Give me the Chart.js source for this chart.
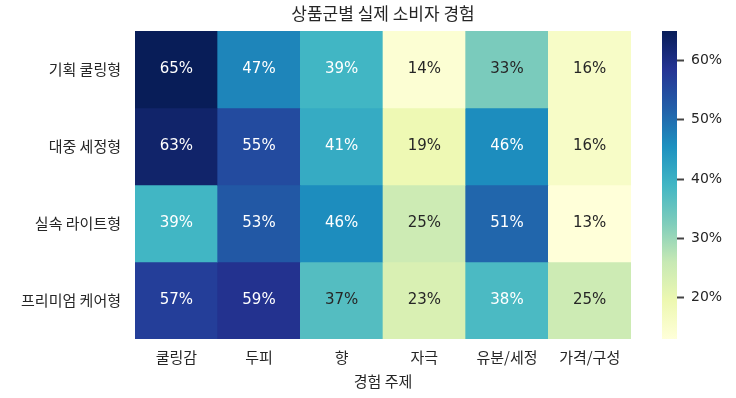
<!DOCTYPE html>
<html>
<head>
<meta charset="utf-8">
<script src="https://cdn.jsdelivr.net/npm/chart.js@4.4.1/dist/chart.umd.min.js"></script>
<style>
  html, body { margin: 0; padding: 0; background: #ffffff; }
  #wrap { position: relative; width: 736px; height: 398px; }
  #heat { position: absolute; left: 0; top: 0; }
  #cbar { position: absolute; left: 600px; top: 0; }
</style>
</head>
<body>
<div id="wrap">
  <canvas id="heat" width="736" height="398"></canvas>
  <canvas id="cbar" width="136" height="398"></canvas>
</div>
<script>
// data
var groups = ["기획 쿨링형", "대중 세정형", "실속 라이트형", "프리미엄 케어형"];
var topics = ["쿨링감", "두피", "향", "자극", "유분/세정", "가격/구성"];
var planCooling = [65, 47, 39, 14, 33, 16];
var massCleansing = [63, 55, 41, 19, 46, 16];
var budgetLight = [39, 53, 46, 25, 51, 13];
var premiumCare = [57, 59, 37, 23, 38, 25];
var cbarTicks = [20, 30, 40, 50, 60];

var values = [planCooling, massCleansing, budgetLight, premiumCare];
var all = [].concat.apply([], values);
var vmin = Math.min.apply(null, all);
var vmax = Math.max.apply(null, all);

var FONT = "'Noto Sans CJK KR', 'Noto Sans', sans-serif";
var NUMFONT = "'DejaVu Sans', 'Noto Sans CJK KR', sans-serif";
var TEXT = "#262626";

// YlGnBu (colorbrewer 9)
var ylgnbu = ["#ffffd9", "#edf8b1", "#c7e9b4", "#7fcdbb", "#41b6c4", "#1d91c0", "#225ea8", "#253494", "#081d58"];

function hexToRgb(h) {
    return [parseInt(h.substr(1, 2), 16), parseInt(h.substr(3, 2), 16), parseInt(h.substr(5, 2), 16)];
}
function cmap(t) {
    t = Math.max(0, Math.min(1, t));
    var pos = t * (ylgnbu.length - 1);
    var i = Math.min(Math.floor(pos), ylgnbu.length - 2);
    var f = pos - i;
    var a = hexToRgb(ylgnbu[i]), b = hexToRgb(ylgnbu[i + 1]);
    return [0, 1, 2].map(function(k) { return Math.round(a[k] + (b[k] - a[k]) * f); });
}
function colorOf(v) {
    var c = cmap((v - vmin) / (vmax - vmin));
    return "rgb(" + c.join(",") + ")";
}
function luminance(v) {
    var c = cmap((v - vmin) / (vmax - vmin)).map(function(x) {
        x = x / 255;
        return x <= 0.03928 ? x / 12.92 : Math.pow((x + 0.055) / 1.055, 2.4);
    });
    return 0.2126 * c[0] + 0.7152 * c[1] + 0.0722 * c[2];
}

var datasets = values.map(function(row, r) {
    return {
        label: groups[r],
        data: row.map(function() { return [r, r + 1]; }),
        backgroundColor: row.map(colorOf),
        borderWidth: 0,
        barPercentage: 1,
        categoryPercentage: 1
    };
});

var cellLabels = {
    id: "cellLabels",
    afterDatasetsDraw: function(chart) {
        var ctx = chart.ctx;
        ctx.save();
        ctx.font = "15px " + NUMFONT;
        ctx.textAlign = "center";
        ctx.textBaseline = "middle";
        chart.data.datasets.forEach(function(ds, r) {
            chart.getDatasetMeta(r).data.forEach(function(el, c) {
                var v = values[r][c];
                ctx.fillStyle = luminance(v) > 0.408 ? TEXT : "#ffffff";
                ctx.fillText(v + "%", el.x, (el.y + el.base) / 2);
            });
        });
        ctx.restore();
    }
};

var plotTitle = {
    id: "plotTitle",
    afterDraw: function(chart) {
        var a = chart.chartArea;
        var ctx = chart.ctx;
        ctx.save();
        ctx.font = "17px " + FONT;
        ctx.fillStyle = TEXT;
        ctx.textAlign = "center";
        ctx.textBaseline = "middle";
        ctx.fillText("상품군별 실제 소비자 경험", (a.left + a.right) / 2, 14);
        ctx.restore();
    }
};

var chart_heat = new Chart(document.getElementById("heat"), {
    type: "bar",
    data: { labels: topics, datasets: datasets },
    plugins: [cellLabels, plotTitle],
    options: {
        responsive: false,
        animation: false,
        layout: { padding: { top: 31, right: 105, left: 0, bottom: 0 } },
        plugins: { legend: { display: false }, tooltip: { enabled: false } },
        scales: {
            x: {
                stacked: true,
                grid: { display: false, drawTicks: false },
                border: { display: false },
                ticks: { color: TEXT, font: { family: FONT, size: 15 }, padding: 9, maxRotation: 0 },
                title: { display: true, text: "경험 주제", color: TEXT, font: { family: FONT, size: 15 }, padding: { top: 0, bottom: 8 } },
                afterFit: function(scale) { scale.height = 59; }
            },
            y: {
                min: 0,
                max: groups.length,
                reverse: true,
                grid: { display: false, drawTicks: false },
                border: { display: false },
                afterBuildTicks: function(scale) {
                    scale.ticks = groups.map(function(g, i) { return { value: i + 0.5 }; });
                },
                ticks: {
                    color: TEXT,
                    font: { family: FONT, size: 15 },
                    padding: 14,
                    callback: function(v) { return groups[Math.floor(v)]; }
                },
                afterFit: function(scale) { scale.width = 135; }
            }
        }
    }
});

var chart_cbar = new Chart(document.getElementById("cbar"), {
    type: "bar",
    data: {
        labels: [""],
        datasets: [{
            data: [[vmin, vmax]],
            borderWidth: 0,
            barPercentage: 1,
            categoryPercentage: 1,
            backgroundColor: function(context) {
                var area = context.chart.chartArea;
                if (!area) return "#ffffff";
                var g = context.chart.ctx.createLinearGradient(0, area.bottom, 0, area.top);
                ylgnbu.forEach(function(c, i) { g.addColorStop(i / (ylgnbu.length - 1), c); });
                return g;
            }
        }]
    },
    options: {
        responsive: false,
        animation: false,
        layout: { padding: { top: 31, left: 62, right: 0, bottom: 59 } },
        plugins: { legend: { display: false }, tooltip: { enabled: false } },
        scales: {
            x: { display: false },
            y: {
                position: "right",
                min: vmin,
                max: vmax,
                border: { display: false },
                grid: { drawOnChartArea: false, drawTicks: true, tickLength: 7, tickColor: "#444444", tickWidth: 2 },
                afterBuildTicks: function(scale) {
                    scale.ticks = cbarTicks.map(function(v) { return { value: v }; });
                },
                ticks: {
                    color: TEXT,
                    font: { family: NUMFONT, size: 14 },
                    padding: 7,
                    callback: function(v) { return v + "%"; }
                },
                afterFit: function(scale) { scale.width = 59; }
            }
        }
    }
});
</script>
</body>
</html>
